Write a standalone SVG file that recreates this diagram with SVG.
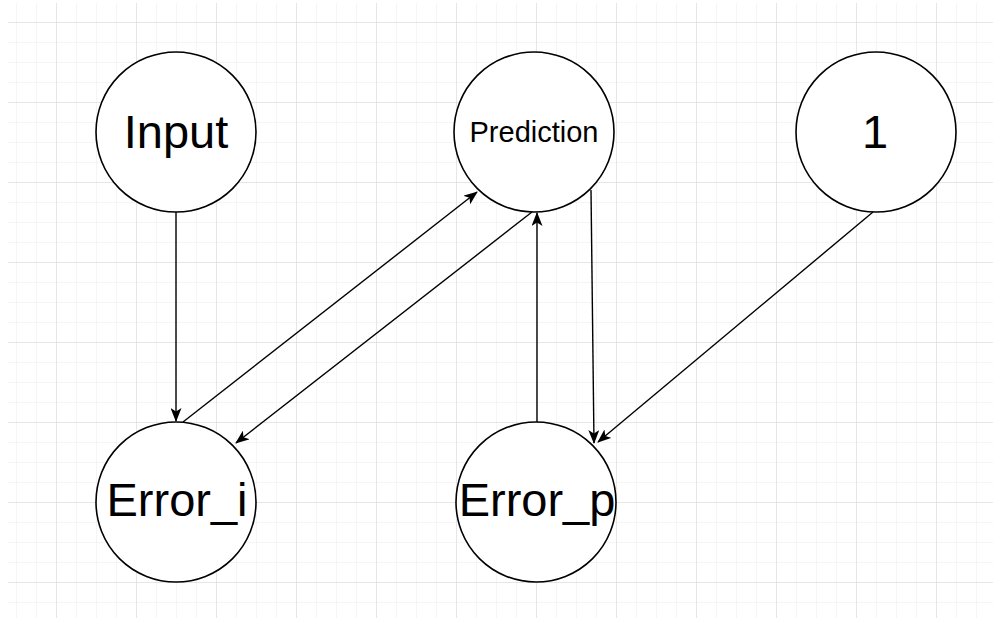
<svg xmlns="http://www.w3.org/2000/svg" width="993" height="618" viewBox="0 0 993 618">
<defs>
<pattern id="minor" x="16" y="2" width="20" height="20" patternUnits="userSpaceOnUse">
<path d="M0 0H20M0 0V20" fill="none" stroke="#ececec" stroke-width="1"/>
</pattern>
<pattern id="major" x="56" y="22" width="80" height="80" patternUnits="userSpaceOnUse">
<path d="M0 0H80M0 0V80" fill="none" stroke="#d8d8d8" stroke-width="1"/>
</pattern>
<marker id="arr" viewBox="0 0 14 11" refX="13" refY="5.5" markerWidth="14" markerHeight="11" markerUnits="userSpaceOnUse" orient="auto">
<path d="M0 0L14 5.5L0 11L3.5 5.5Z" fill="#000"/>
</marker>
</defs>
<style>
.node{fill:#fff;stroke:#000;stroke-width:1.6}
.lbl{font-family:"Liberation Sans",Arial,sans-serif;fill:#000;text-anchor:middle}
.big{font-size:47px}
.small{font-size:29px}
.edge{fill:none;stroke:#000;stroke-width:1.4;marker-end:url(#arr)}
</style>
<rect width="993" height="618" fill="#fff"/>
<rect x="8" y="3" width="985" height="615" fill="url(#minor)"/>
<rect x="8" y="3" width="985" height="615" fill="url(#major)"/>
<g id="n-input"><circle class="node" cx="176" cy="132" r="80"/><text class="lbl big" x="176" y="148">Input</text></g>
<g id="n-prediction"><circle class="node" cx="534" cy="132" r="80"/><text class="lbl small" x="534" y="142">Prediction</text></g>
<g id="n-one"><circle class="node" cx="876" cy="132" r="80"/><text class="lbl big" x="875" y="148">1</text></g>
<g id="n-error-i"><circle class="node" cx="176" cy="502" r="80"/><text class="lbl big" x="177" y="516">Error_i</text></g>
<g id="n-error-p"><circle class="node" cx="536" cy="502" r="80"/><text class="lbl big" x="537" y="516">Error_p</text></g>
<g id="connectors">
<path class="edge" d="M176 212L176 421"/>
<path class="edge" d="M183 422L477 192"/>
<path class="edge" d="M532 212L236 443"/>
<path class="edge" d="M537 422L537 213"/>
<path class="edge" d="M591 190L594 443"/>
<path class="edge" d="M873 212L598 442"/>
</g>
</svg>
